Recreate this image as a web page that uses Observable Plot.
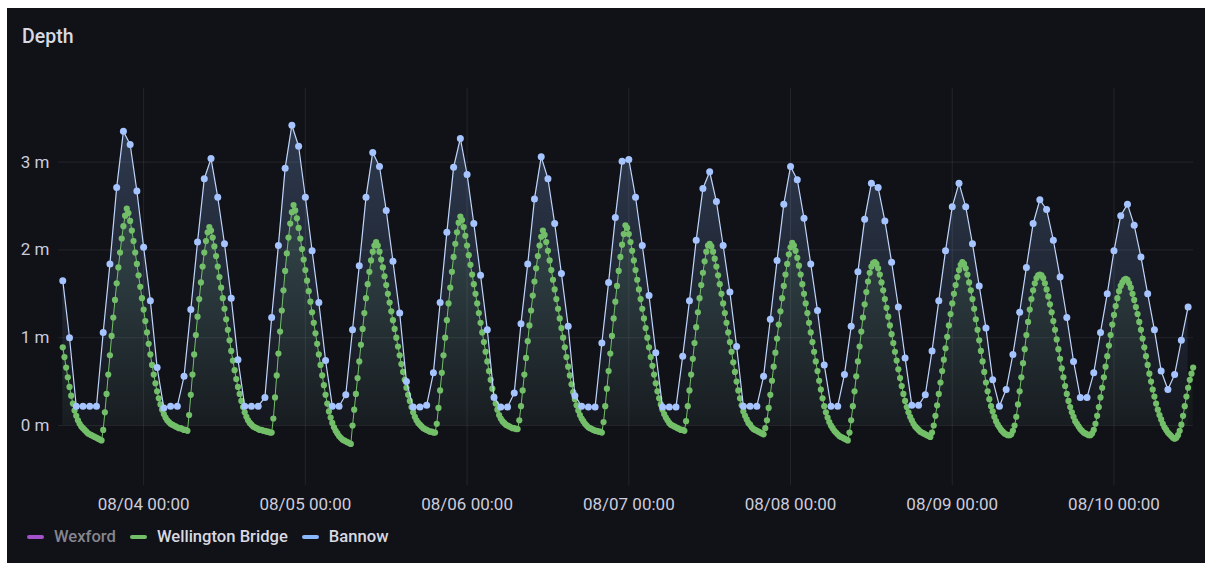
<!DOCTYPE html>
<html>
<head>
<meta charset="utf-8">
<script src="https://cdn.jsdelivr.net/npm/d3@7"></script>
<script src="https://cdn.jsdelivr.net/npm/@observablehq/plot@0.6"></script>
<style>
  html, body { margin: 0; padding: 0; width: 1205px; height: 563px; overflow: hidden; background: #ffffff; font-family: Roboto, "Noto Sans", sans-serif; }
  #panel { position: absolute; left: 7px; top: 8px; right: 0; bottom: 0; background: #111217; }
  #chart { position: absolute; left: 0; top: 0; }
  #title { position: absolute; left: 22px; top: 27px; font-size: 19.5px; line-height: 20px; font-weight: 500; color: #d8d9e2; }
  #legend { position: absolute; left: 27px; top: 527px; display: flex; align-items: center; gap: 14px; font-size: 16.6px; line-height: 19px; font-weight: 500; }
  .item { display: flex; align-items: center; gap: 10px; }
  .sw { width: 17px; height: 4px; border-radius: 2px; }
</style>
</head>
<body>
<div id="panel"></div>
<div id="chart"></div>
<div id="title">Depth</div>
<div id="legend"></div>
<script>
// ---- Data ----
const seriesNames = ["Wexford", "Wellington Bridge", "Bannow"];
const seriesColors = ["#a352cc", "#73bf69", "#8ab8ff"];
const seriesHidden = [true, false, false];

const startTime = Date.UTC(2024, 7, 3, 12, 0); // 08/03 12:00
const bannowStepMinutes = 60;
const wellingtonStepMinutes = 15;

const xTickLabelsDays = [4, 5, 6, 7, 8, 9, 10]; // 08/04 .. 08/10 00:00
const yTickValues = [0, 1, 2, 3];

// Bannow: hourly depth (m)
const bannow = [
  1.65, 1.00, 0.22, 0.22, 0.22, 0.22, 1.06, 1.84, 2.71, 3.35,
  3.20, 2.67, 2.03, 1.42, 0.66, 0.20, 0.22, 0.22, 0.56, 1.32,
  2.09, 2.81, 3.04, 2.60, 2.07, 1.45, 0.75, 0.22, 0.22, 0.22,
  0.32, 1.23, 2.05, 2.93, 3.42, 3.18, 2.60, 1.99, 1.40, 0.74,
  0.22, 0.22, 0.35, 1.09, 1.82, 2.60, 3.11, 2.95, 2.45, 1.87,
  1.28, 0.50, 0.21, 0.21, 0.23, 0.60, 1.40, 2.20, 2.94, 3.27,
  2.86, 2.30, 1.71, 1.09, 0.32, 0.21, 0.21, 0.37, 1.16, 1.84,
  2.58, 3.06, 2.81, 2.30, 1.73, 1.13, 0.34, 0.22, 0.21, 0.21,
  0.94, 1.63, 2.37, 3.01, 3.03, 2.60, 2.05, 1.48, 0.83, 0.21,
  0.21, 0.21, 0.79, 1.42, 2.11, 2.70, 2.89, 2.55, 2.05, 1.52,
  0.90, 0.22, 0.22, 0.22, 0.56, 1.21, 1.88, 2.52, 2.95, 2.80,
  2.36, 1.84, 1.31, 0.69, 0.22, 0.22, 0.58, 1.13, 1.75, 2.35,
  2.76, 2.71, 2.33, 1.86, 1.35, 0.77, 0.23, 0.23, 0.35, 0.85,
  1.42, 1.99, 2.49, 2.76, 2.49, 2.07, 1.59, 1.11, 0.52, 0.22,
  0.41, 0.81, 1.29, 1.80, 2.30, 2.57, 2.46, 2.11, 1.69, 1.23,
  0.73, 0.32, 0.32, 0.60, 1.06, 1.50, 1.99, 2.39, 2.52, 2.28,
  1.92, 1.50, 1.09, 0.62, 0.41, 0.58, 0.97, 1.35
];

// Wellington Bridge: 15-minute depth (m)
const wellingtonBridge = [
  0.89, 0.78, 0.66, 0.55, 0.44, 0.34, 0.25, 0.17, 0.11, 0.06, 0.02, -0.01,
  -0.03, -0.05, -0.07, -0.09, -0.10, -0.11, -0.12, -0.13, -0.14, -0.15, -0.16, -0.17,
  -0.05, 0.15, 0.36, 0.58, 0.80, 1.02, 1.23, 1.43, 1.62, 1.80, 1.97, 2.13, 2.27, 2.39, 2.47,
  2.42, 2.33, 2.22, 2.10, 1.97, 1.84, 1.71, 1.58, 1.45, 1.32, 1.19, 1.06, 0.93, 0.81, 0.69,
  0.58, 0.48, 0.39, 0.31, 0.24, 0.18, 0.13, 0.09, 0.06, 0.04, 0.02, 0.01, 0.00, -0.01, -0.02,
  -0.03, -0.03, -0.04, -0.05, -0.05, -0.06,
  0.12, 0.35, 0.58, 0.81, 1.03, 1.24, 1.44, 1.63, 1.81, 1.97, 2.10, 2.20, 2.26,
  2.22, 2.14, 2.04, 1.93, 1.81, 1.69, 1.57, 1.45, 1.33, 1.21, 1.09, 0.97, 0.85, 0.74, 0.63,
  0.53, 0.44, 0.36, 0.28, 0.21, 0.15, 0.10, 0.06, 0.03, 0.01, -0.01, -0.02, -0.03, -0.04,
  -0.05, -0.05, -0.06, -0.06, -0.07, -0.07, -0.08, -0.08,
  0.08, 0.32, 0.57, 0.82, 1.07, 1.31, 1.54, 1.76, 1.96, 2.14, 2.30, 2.43, 2.51,
  2.45, 2.36, 2.25, 2.13, 2.01, 1.89, 1.77, 1.65, 1.53, 1.41, 1.29, 1.17, 1.05, 0.93, 0.81,
  0.69, 0.57, 0.46, 0.35, 0.25, 0.16, 0.09, 0.03, -0.02, -0.06, -0.09, -0.12, -0.14, -0.16,
  -0.17, -0.18, -0.19, -0.20, -0.21,
  0.00, 0.18, 0.36, 0.54, 0.73, 0.92, 1.10, 1.28, 1.45, 1.61, 1.75, 1.88, 1.98, 2.05, 2.09,
  2.05, 1.98, 1.89, 1.80, 1.70, 1.60, 1.50, 1.40, 1.30, 1.20, 1.10, 1.00, 0.90, 0.80, 0.70,
  0.61, 0.52, 0.43, 0.35, 0.28, 0.21, 0.15, 0.10, 0.06, 0.03, 0.01, -0.01, -0.03, -0.04,
  -0.05, -0.06, -0.07, -0.07, -0.08, -0.08,
  0.02, 0.20, 0.40, 0.60, 0.80, 1.00, 1.20, 1.39, 1.57, 1.75, 1.92, 2.07, 2.20, 2.31, 2.38,
  2.34, 2.26, 2.16, 2.05, 1.94, 1.83, 1.72, 1.61, 1.50, 1.39, 1.28, 1.17, 1.06, 0.95, 0.84,
  0.73, 0.62, 0.52, 0.42, 0.33, 0.25, 0.18, 0.12, 0.08, 0.05, 0.03, 0.01, 0.00, -0.01,
  -0.02, -0.03, -0.03, -0.04, -0.04,
  0.06, 0.22, 0.40, 0.58, 0.77, 0.96, 1.14, 1.31, 1.48, 1.64, 1.79, 1.93, 2.05, 2.15, 2.22,
  2.17, 2.09, 1.99, 1.88, 1.77, 1.66, 1.55, 1.44, 1.33, 1.22, 1.11, 1.00, 0.89, 0.78, 0.67,
  0.57, 0.47, 0.38, 0.30, 0.23, 0.17, 0.12, 0.08, 0.05, 0.02, 0.00, -0.02, -0.03, -0.04,
  -0.05, -0.06, -0.06, -0.07, -0.07, -0.08,
  0.04, 0.22, 0.42, 0.62, 0.82, 1.02, 1.22, 1.41, 1.59, 1.76, 1.92, 2.06, 2.18, 2.28,
  2.25, 2.18, 2.09, 1.99, 1.88, 1.77, 1.66, 1.55, 1.44, 1.33, 1.22, 1.11, 1.00, 0.89, 0.78,
  0.68, 0.58, 0.48, 0.39, 0.31, 0.24, 0.18, 0.13, 0.09, 0.06, 0.03, 0.01, 0.00, -0.01,
  -0.02, -0.03, -0.04, -0.05, -0.05, -0.06,
  0.05, 0.22, 0.40, 0.58, 0.76, 0.94, 1.12, 1.29, 1.45, 1.60, 1.74, 1.87, 1.98, 2.05, 2.07,
  2.04, 1.98, 1.90, 1.81, 1.71, 1.61, 1.50, 1.39, 1.28, 1.17, 1.06, 0.95, 0.84,
  0.72, 0.61, 0.50, 0.40, 0.31, 0.23, 0.16, 0.11, 0.07, 0.03, 0.01, -0.02, -0.04, -0.05,
  -0.06, -0.07, -0.08, -0.09, -0.10,
  -0.03, 0.06, 0.20, 0.35, 0.51, 0.67, 0.83, 0.99, 1.15, 1.30, 1.45, 1.59, 1.72, 1.84, 1.95, 2.03, 2.08,
  2.05, 1.99, 1.91, 1.82, 1.72, 1.61, 1.50, 1.39, 1.28, 1.17, 1.06, 0.95, 0.84, 0.73, 0.62,
  0.51, 0.41, 0.31, 0.22, 0.15, 0.09, 0.04, 0.00, -0.03, -0.06, -0.08, -0.10, -0.12, -0.13,
  -0.14, -0.15, -0.16, -0.17,
  -0.08, 0.06, 0.22, 0.39, 0.56, 0.73, 0.90, 1.07, 1.23, 1.38, 1.52, 1.64, 1.74, 1.81, 1.85, 1.86,
  1.84, 1.79, 1.72, 1.63, 1.54, 1.44, 1.34, 1.24, 1.14, 1.04, 0.94, 0.84, 0.74, 0.64, 0.54,
  0.45, 0.36, 0.28, 0.21, 0.15, 0.10, 0.06, 0.02, -0.01, -0.03, -0.05, -0.07, -0.08, -0.09,
  -0.10, -0.11, -0.12, -0.13,
  -0.08, 0.00, 0.11, 0.23, 0.36, 0.49, 0.62, 0.75, 0.88, 1.01, 1.14, 1.27, 1.39, 1.50, 1.60,
  1.69, 1.77, 1.83, 1.86,
  1.84, 1.79, 1.72, 1.63, 1.54, 1.44, 1.33, 1.21, 1.09, 0.97, 0.85, 0.73, 0.61, 0.49,
  0.39, 0.30, 0.22, 0.16, 0.10, 0.05, 0.01, -0.02, -0.05, -0.07, -0.09, -0.10, -0.11, -0.11,
  -0.10, -0.06, 0.00, 0.10, 0.24, 0.39, 0.55, 0.71, 0.87, 1.03, 1.18, 1.32, 1.44, 1.54,
  1.62, 1.68, 1.71, 1.72,
  1.71, 1.68, 1.62, 1.55, 1.47, 1.38, 1.29, 1.19, 1.09, 0.98, 0.87, 0.76, 0.65, 0.55, 0.45,
  0.36, 0.28, 0.21, 0.15, 0.10, 0.05, 0.02, -0.01, -0.04, -0.06, -0.08, -0.09, -0.10, -0.11, -0.11,
  -0.09, -0.05, 0.02, 0.11, 0.21, 0.32, 0.43, 0.55, 0.67, 0.79, 0.91, 1.03, 1.15, 1.26, 1.36,
  1.45, 1.53, 1.59, 1.63, 1.66, 1.67,
  1.66, 1.62, 1.57, 1.50, 1.43, 1.35, 1.27, 1.18, 1.09, 0.99, 0.89, 0.79, 0.69, 0.59, 0.50,
  0.41, 0.33, 0.25, 0.18, 0.12, 0.07, 0.02, -0.02, -0.05, -0.08, -0.10, -0.12, -0.14, -0.15,
  -0.14, -0.11, -0.06, 0.01, 0.11, 0.22, 0.33, 0.43, 0.52, 0.59, 0.66
];

// ---- Build tables ----
const wbData = wellingtonBridge.map((v, i) => ({ t: new Date(startTime + i * wellingtonStepMinutes * 60000), v }));
const bnData = bannow.map((v, i) => ({ t: new Date(startTime + i * bannowStepMinutes * 60000), v }));
const xTicks = xTickLabelsDays.map(d => new Date(Date.UTC(2024, 7, d, 0, 0)));

const defs = () => {
  const d = d3.create("svg:defs");
  const mk = (id, color, top, bottom) => {
    const g = d.append("linearGradient").attr("id", id)
      .attr("x1", 0).attr("x2", 0).attr("y1", 0).attr("y2", 1);
    g.append("stop").attr("offset", "0%").attr("stop-color", color).attr("stop-opacity", top);
    g.append("stop").attr("offset", "100%").attr("stop-color", color).attr("stop-opacity", bottom);
  };
  mk("gradWB", seriesColors[1], 0.16, 0.02);
  mk("gradBN", seriesColors[2], 0.24, 0.03);
  return d.node();
};

const chart = Plot.plot({
  width: 1205,
  height: 520,
  marginLeft: 58,
  marginRight: 12,
  marginTop: 88,
  marginBottom: 35,
  style: { background: "transparent", color: "#ccccdc", fontFamily: "Roboto, 'Noto Sans', sans-serif", fontSize: "17px" },
  x: {
    type: "utc",
    domain: [new Date(Date.UTC(2024, 7, 3, 11, 22)), new Date(Date.UTC(2024, 7, 10, 11, 48))],
    ticks: xTicks,
    tickFormat: d3.utcFormat("%m/%d %H:%M"),
    tickSize: 0,
    tickPadding: 12,
    grid: true,
    label: null
  },
  y: {
    domain: [-0.683, 3.838],
    ticks: yTickValues,
    tickFormat: d => `${d} m`,
    tickSize: 0,
    tickPadding: 9,
    grid: true,
    label: null
  },
  marks: [
    defs,
    Plot.areaY(wbData, { x: "t", y: "v", fill: "url(#gradWB)" }),
    Plot.areaY(bnData, { x: "t", y: "v", fill: "url(#gradBN)" }),
    Plot.line(wbData, { x: "t", y: "v", stroke: seriesColors[1], strokeWidth: 1 }),
    Plot.dot(wbData, { x: "t", y: "v", r: 3.1, fill: seriesColors[1], stroke: "none" }),
    Plot.line(bnData, { x: "t", y: "v", stroke: "#c0d5fb", strokeWidth: 1.2 }),
    Plot.dot(bnData, { x: "t", y: "v", r: 3.5, fill: "#a6c4ff", stroke: "none" })
  ]
});
document.getElementById("chart").appendChild(chart);

// ---- Legend ----
const legend = document.getElementById("legend");
seriesNames.forEach((name, i) => {
  const item = document.createElement("div");
  item.className = "item";
  const sw = document.createElement("div");
  sw.className = "sw";
  sw.style.background = seriesColors[i];
  const label = document.createElement("span");
  label.textContent = name;
  label.style.color = seriesHidden[i] ? "#85858f" : "#d8d9e2";
  item.appendChild(sw);
  item.appendChild(label);
  legend.appendChild(item);
});
</script>
</body>
</html>
